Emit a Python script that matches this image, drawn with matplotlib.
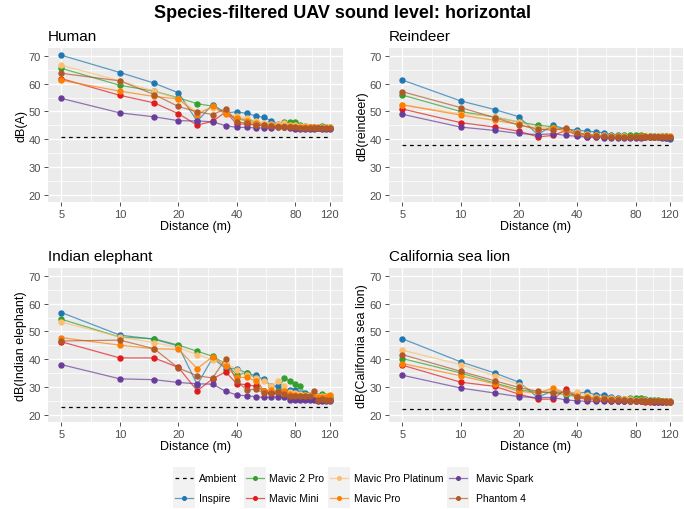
import matplotlib
matplotlib.use("Agg")
import matplotlib.pyplot as plt
from matplotlib.lines import Line2D
from matplotlib.patches import Rectangle
import numpy as np

plt.rcParams['font.family'] = ['Liberation Sans', 'DejaVu Sans']

distances = list(range(5, 125, 5))
series_names = ["Inspire", "Mavic 2 Pro", "Mavic Mini", "Mavic Pro Platinum",
                "Mavic Pro", "Mavic Spark", "Phantom 4"]
colors = {"Inspire": "#1F78B4", "Mavic 2 Pro": "#33A02C", "Mavic Mini": "#E31A1C",
          "Mavic Pro Platinum": "#FDBF6F", "Mavic Pro": "#FF7F00",
          "Mavic Spark": "#6A3D9A", "Phantom 4": "#B15928"}

panel_titles = ["Human", "Reindeer", "Indian elephant", "California sea lion"]
ylabels = ["dB(A)", "dB(reindeer)", "dB(Indian elephant)", "dB(California sea lion)"]
ambient = [41.0, 37.9, 22.8, 22.2]

human = {
    "Inspire": [70.2, 64.0, 60.2, 56.7, 46.5, 52.5, 49.5, 49.9, 49.3, 48.4, 47.9, 46.7, 45.5, 45.2, 45.0, 44.8, 44.6, 44.5, 44.4, 44.3, 44.2, 44.1, 44.0, 44.0],
    "Mavic 2 Pro": [65.5, 59.4, 57.3, 54.9, 52.8, 51.9, 49.3, 47.5, 47.1, 46.3, 45.5, 45.3, 45.3, 46.1, 46.1, 46.1, 45.3, 44.8, 44.6, 44.5, 44.6, 44.8, 44.5, 44.3],
    "Mavic Mini": [61.8, 55.8, 53.1, 49.2, 45.1, 46.5, 49.8, 45.5, 45.5, 45.1, 45.0, 44.8, 44.7, 44.5, 44.4, 44.3, 44.2, 44.1, 44.0, 44.0, 44.0, 43.9, 43.9, 43.9],
    "Mavic Pro Platinum": [66.6, 61.0, 57.3, 54.6, 49.8, 51.3, 49.5, 48.3, 47.7, 46.5, 46.0, 45.6, 45.5, 46.0, 45.3, 45.0, 44.8, 44.7, 44.6, 44.5, 44.5, 44.4, 44.4, 44.4],
    "Mavic Pro": [61.2, 57.3, 55.4, 54.5, 48.9, 51.8, 49.2, 47.5, 46.5, 45.8, 45.3, 45.0, 44.9, 44.8, 44.7, 44.6, 44.5, 44.4, 44.3, 44.3, 44.2, 44.2, 44.2, 44.2],
    "Mavic Spark": [54.7, 49.5, 48.1, 46.7, 46.6, 46.3, 44.9, 44.3, 44.3, 44.1, 44.1, 44.1, 44.3, 44.5, 44.0, 43.8, 43.7, 43.7, 43.7, 43.8, 44.0, 43.7, 43.7, 43.7],
    "Phantom 4": [63.7, 61.0, 56.1, 51.8, 49.9, 48.9, 51.0, 46.3, 45.8, 45.3, 45.0, 44.8, 44.6, 44.5, 44.4, 44.3, 44.2, 44.1, 44.0, 44.0, 44.1, 44.2, 44.0, 44.0],
}
reindeer = {
    "Inspire": [61.3, 53.8, 50.7, 48.1, 41.7, 45.1, 43.6, 43.3, 42.9, 42.7, 42.3, 41.7, 41.5, 41.3, 41.2, 41.1, 41.0, 41.0, 40.9, 40.9, 40.8, 40.7, 40.6, 40.3],
    "Mavic 2 Pro": [55.9, 50.0, 48.0, 46.2, 45.1, 44.5, 43.3, 42.1, 41.7, 41.5, 41.3, 41.2, 41.3, 41.6, 41.7, 41.7, 41.7, 41.3, 41.2, 41.1, 41.0, 41.3, 41.3, 41.0],
    "Mavic Mini": [50.9, 46.0, 44.4, 42.9, 40.9, 41.4, 43.2, 41.5, 41.0, 41.0, 40.9, 40.9, 40.8, 40.8, 40.8, 40.8, 40.8, 40.8, 40.8, 40.8, 40.8, 40.7, 40.7, 40.7],
    "Mavic Pro Platinum": [52.4, 49.2, 48.1, 46.2, 44.2, 44.2, 43.3, 42.6, 42.0, 41.7, 41.5, 41.3, 41.2, 41.1, 41.0, 41.0, 41.0, 41.0, 41.0, 41.0, 41.0, 41.0, 41.0, 41.0],
    "Mavic Pro": [52.4, 48.7, 46.8, 45.4, 43.3, 44.0, 43.0, 42.0, 41.6, 41.4, 41.3, 41.2, 41.1, 40.9, 41.0, 41.0, 41.1, 41.1, 41.2, 41.0, 41.1, 41.0, 41.3, 41.2],
    "Mavic Spark": [49.0, 44.4, 43.2, 42.1, 41.7, 42.0, 41.4, 41.1, 40.7, 40.7, 40.6, 40.6, 40.6, 40.6, 40.6, 40.6, 40.6, 40.7, 41.0, 40.8, 40.7, 40.6, 40.6, 40.6],
    "Phantom 4": [57.1, 51.4, 47.8, 45.1, 43.8, 43.2, 44.2, 42.3, 41.7, 41.3, 41.1, 41.0, 40.9, 40.9, 40.9, 40.9, 40.8, 40.8, 40.8, 40.8, 40.8, 40.8, 40.8, 40.8],
}
elephant = {
    "Inspire": [56.8, 48.7, 47.2, 44.8, 30.9, 40.5, 36.7, 36.7, 35.0, 34.2, 32.8, 30.5, 30.3, 28.7, 29.0, 29.0, 28.0, 28.0, 27.3, 27.2, 27.0, 26.8, 26.5, 26.3],
    "Mavic 2 Pro": [54.4, 48.0, 47.4, 45.1, 42.9, 41.1, 38.4, 34.5, 35.1, 33.3, 28.5, 27.9, 28.7, 33.3, 32.3, 31.2, 30.3, 27.5, 27.0, 26.8, 27.0, 27.5, 27.0, 26.5],
    "Mavic Mini": [46.3, 40.5, 40.5, 37.1, 28.7, 33.0, 35.5, 31.2, 30.9, 30.3, 28.7, 27.9, 28.0, 28.5, 27.0, 26.5, 26.3, 26.0, 25.8, 25.7, 25.6, 25.5, 25.5, 25.5],
    "Mavic Pro Platinum": [53.4, 48.0, 46.0, 44.2, 41.7, 39.9, 38.7, 36.3, 34.5, 33.3, 32.3, 30.3, 32.3, 30.6, 28.1, 27.8, 27.5, 27.3, 27.2, 27.0, 26.8, 26.8, 26.8, 27.0],
    "Mavic Pro": [47.8, 45.1, 43.8, 43.6, 36.7, 40.9, 37.5, 33.5, 33.5, 32.3, 28.7, 29.0, 28.2, 28.5, 27.5, 27.2, 27.0, 26.8, 26.6, 26.5, 26.3, 26.3, 26.5, 27.3],
    "Mavic Spark": [38.1, 33.0, 32.7, 31.7, 31.2, 31.1, 28.5, 27.2, 26.9, 26.6, 26.3, 26.3, 26.6, 26.3, 25.4, 25.4, 25.4, 25.4, 25.5, 25.3, 25.0, 25.2, 25.0, 25.0],
    "Phantom 4": [46.6, 46.9, 43.8, 36.9, 34.1, 33.3, 40.2, 32.1, 29.0, 29.3, 27.9, 27.9, 28.2, 27.5, 27.0, 27.0, 27.0, 27.0, 27.0, 28.7, 25.5, 25.8, 25.5, 25.5],
}
sealion = {
    "Inspire": [47.4, 39.1, 35.1, 31.8, 26.4, 28.7, 28.2, 27.9, 28.2, 27.2, 27.2, 26.6, 26.0, 25.8, 25.6, 25.5, 25.4, 25.3, 25.2, 25.1, 25.0, 25.0, 24.9, 24.8],
    "Mavic 2 Pro": [40.3, 35.1, 31.5, 29.1, 28.1, 28.2, 27.2, 26.6, 26.3, 26.0, 25.8, 25.7, 25.6, 25.8, 26.0, 26.0, 26.0, 25.6, 25.5, 25.4, 25.3, 25.2, 25.0, 25.0],
    "Mavic Mini": [37.9, 31.8, 30.3, 27.5, 25.7, 25.7, 29.4, 26.3, 25.6, 25.4, 25.3, 25.2, 25.1, 25.0, 25.0, 24.9, 24.9, 24.8, 24.8, 24.8, 24.8, 24.8, 24.8, 24.6],
    "Mavic Pro Platinum": [43.3, 38.1, 34.1, 30.9, 28.2, 29.1, 27.9, 28.2, 27.2, 26.6, 26.2, 26.0, 25.8, 25.7, 25.6, 25.5, 25.4, 25.3, 25.2, 25.1, 25.0, 24.9, 24.8, 24.8],
    "Mavic Pro": [38.5, 34.1, 31.2, 28.5, 27.9, 29.7, 27.9, 27.0, 26.5, 26.2, 26.0, 25.8, 25.6, 25.4, 25.3, 25.2, 25.3, 25.1, 25.0, 25.0, 25.0, 25.0, 25.1, 25.0],
    "Mavic Spark": [34.3, 29.7, 27.9, 26.6, 26.3, 26.3, 25.4, 25.1, 24.9, 24.9, 24.9, 25.0, 25.0, 25.0, 24.9, 24.9, 24.9, 24.9, 24.9, 24.7, 24.7, 24.7, 24.7, 24.6],
    "Phantom 4": [41.7, 35.7, 32.3, 29.9, 28.5, 27.9, 28.2, 26.6, 26.2, 25.9, 25.7, 25.5, 25.4, 25.3, 25.2, 25.1, 25.1, 25.0, 25.0, 25.0, 24.9, 24.9, 24.8, 24.8],
}
panels_data = [human, reindeer, elephant, sealion]

xticks = [5, 10, 20, 40, 80, 120]
yticks = [20, 30, 40, 50, 60, 70]

W, H = 684, 510
fig = plt.figure(figsize=(W / 100, H / 100), dpi=100)

# panel rectangles in pixels: (left, top, right, bottom)
rects = [(48, 49, 343, 203), (389, 49, 683, 203), (48, 269, 343, 423), (389, 269, 683, 423)]

lx0, lx1 = np.log10(5), np.log10(120)
pad = 0.05 * (lx1 - lx0)
xlim = (10 ** (lx0 - pad), 10 ** (lx1 + pad))
minor_x = [10 ** ((np.log10(a) + np.log10(b)) / 2) for a, b in zip(xticks[:-1], xticks[1:])]

for i, (l, t, r, b) in enumerate(rects):
    ax = fig.add_axes([l / W, 1 - b / H, (r - l) / W, (b - t) / H])
    ax.set_facecolor("#EBEBEB")
    ax.set_xscale("log")
    ax.set_xlim(*xlim)
    ax.set_ylim(17.5, 72.8)
    for s in ax.spines.values():
        s.set_visible(False)
    for xv in minor_x:
        ax.axvline(xv, color="white", lw=0.5, zorder=0)
    for yv in [25, 35, 45, 55, 65]:
        ax.axhline(yv, color="white", lw=0.5, zorder=0)
    for xv in xticks:
        ax.axvline(xv, color="white", lw=1.0, zorder=0)
    for yv in yticks:
        ax.axhline(yv, color="white", lw=1.0, zorder=0)
    ax.set_xticks(xticks)
    ax.set_xticklabels([str(v) for v in xticks])
    ax.xaxis.set_minor_locator(matplotlib.ticker.NullLocator())
    ax.set_yticks(yticks)
    ax.tick_params(axis="both", colors="#333333", labelcolor="#4D4D4D",
                   labelsize=8, length=3, width=0.6, pad=2)
    ax.set_xlabel("Distance (m)", fontsize=9, labelpad=1)
    ax.set_ylabel(ylabels[i], fontsize=9, labelpad=1)
    ax.set_title(panel_titles[i], loc="left", fontsize=11, pad=6)

    data = panels_data[i]
    ax.plot([distances[0], distances[-1]], [ambient[i], ambient[i]], color="black",
            ls=(0, (3, 3)), lw=0.9, zorder=2)
    for name in series_names:
        ax.plot(distances, data[name], color=colors[name], lw=0.9, alpha=0.7, zorder=3)
    for name in series_names:
        ax.plot(distances, data[name], ls="none", marker="o", ms=3.6,
                color=colors[name], zorder=4)

fig.suptitle("Species-filtered UAV sound level: horizontal", fontsize=13,
             fontweight="bold", y=1 - 13 / H, va="center")

# manual legend (ggplot style with grey key backgrounds), column-major
leg_labels = ["Ambient"] + series_names
key_x = [173, 244, 328, 447]
text_x = [199, 269, 354, 476]
row_y = [479, 499]
key_w = 22
for c in range(4):
    fig.patches.append(Rectangle((key_x[c] / W, 1 - 509 / H), key_w / W, 41 / H,
                                 transform=fig.transFigure, facecolor="#F2F2F2",
                                 edgecolor="none", zorder=0))
for k, lab in enumerate(leg_labels):
    c, rr = k // 2, k % 2
    yy = 1 - row_y[rr] / H
    x0 = (key_x[c] + 2) / W
    x1 = (key_x[c] + key_w - 2) / W
    if lab == "Ambient":
        fig.add_artist(Line2D([x0, x1], [yy, yy], color="black", ls=(0, (3, 3)), lw=0.9,
                              transform=fig.transFigure))
    else:
        fig.add_artist(Line2D([x0, x1], [yy, yy], color=colors[lab], lw=0.9, alpha=0.7,
                              transform=fig.transFigure))
        fig.add_artist(Line2D([(x0 + x1) / 2], [yy], color=colors[lab], ls="none",
                              marker="o", ms=2.6, transform=fig.transFigure))
    fig.text(text_x[c] / W, yy, lab, fontsize=7.5, va="center", ha="left")

fig.savefig("out.png", dpi=100)
